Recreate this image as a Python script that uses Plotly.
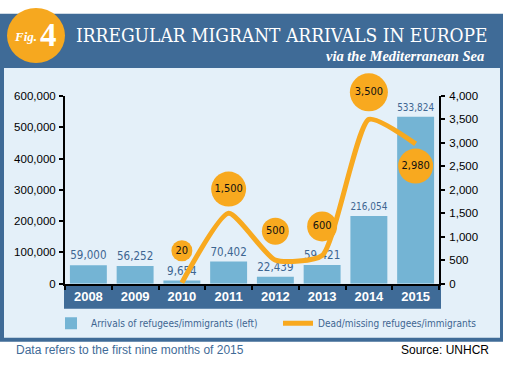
import plotly.graph_objects as go

# ---- data ----
years = ["2008", "2009", "2010", "2011", "2012", "2013", "2014", "2015"]
arrivals = [59000, 56252, 9654, 70402, 22439, 59421, 216054, 533824]
death_years = ["2010", "2011", "2012", "2013", "2014", "2015"]
deaths = [20, 1500, 500, 600, 3500, 2980]
left_ticks = [0, 100000, 200000, 300000, 400000, 500000, 600000]
right_ticks = [0, 500, 1000, 1500, 2000, 2500, 3000, 3500, 4000]

# ---- styles ----
W, H = 505, 368
BLUE = "#3f6b97"
PANEL = "#e4f0f9"
BAR = "#74b4d4"
LABEL = "#3d6591"
ORANGE = "#f8a91f"
COND = "DejaVu Sans Condensed"
bubble_sizes = [21, 35, 27, 30, 38, 35]
bubble_offset_px = [33, 25, 30, 30, 28, -23]
PLOT_TOP, PLOT_BOT = 93, 287
BUBBLE_TOP = 50
Y2MAX = 4000
units_per_px = Y2MAX / (PLOT_BOT - PLOT_TOP)
Y3MAX = units_per_px * (PLOT_BOT - BUBBLE_TOP)
bubble_y = [v + o * units_per_px for v, o in zip(deaths, bubble_offset_px)]
XRANGE = [-0.5, len(years) - 0.5]


def xp(px):
    return px / W


def yp(py):
    return 1 - py / H


fig = go.Figure()

fig.add_trace(go.Bar(
    x=years, y=arrivals, name="Arrivals of refugees/immigrants (left)",
    marker=dict(color=BAR, line=dict(width=0)), width=0.79,
    text=[f"{v:,}" for v in arrivals], textposition="outside",
    textfont=dict(family=COND, size=11.5, color=LABEL),
    cliponaxis=False, yaxis="y",
))

fig.add_trace(go.Scatter(
    x=death_years, y=deaths, name="Dead/missing refugees/immigrants",
    mode="lines", line=dict(color=ORANGE, width=5, shape="spline", smoothing=0.55),
    yaxis="y2", cliponaxis=False,
))

fig.add_trace(go.Scatter(
    x=death_years, y=bubble_y, mode="markers+text", showlegend=False,
    marker=dict(color=ORANGE, size=bubble_sizes, line=dict(width=0), opacity=1),
    text=[f"{v:,}" for v in deaths], textposition="middle center",
    textfont=dict(family=COND, size=11, color="#111111"),
    xaxis="x", yaxis="y3", cliponaxis=False, hoverinfo="skip",
))

shapes = [
    dict(type="rect", xref="paper", yref="paper", x0=xp(0), x1=xp(503), y0=yp(347), y1=yp(8),
         fillcolor=BLUE, line=dict(width=0), layer="below"),
    dict(type="rect", xref="paper", yref="paper", x0=xp(4), x1=xp(500), y0=yp(343), y1=yp(64),
         fillcolor=PANEL, line=dict(width=0), layer="below"),
    dict(type="rect", xref="paper", yref="paper", x0=xp(64), x1=xp(441), y0=yp(313), y1=yp(288),
         fillcolor=BLUE, line=dict(width=0), layer="below"),
    dict(type="circle", xref="paper", yref="paper", x0=xp(7), x1=xp(65), y0=yp(59), y1=yp(2),
         fillcolor="#f6a81f", line=dict(width=0)),
]

annotations = [
    dict(text="IRREGULAR MIGRANT ARRIVALS IN EUROPE", x=xp(74), y=yp(30), xref="paper", yref="paper",
         xanchor="left", yanchor="middle", showarrow=False,
         font=dict(family="DejaVu Serif Condensed", size=19, color="white")),
    dict(text="<b><i>via the Mediterranean Sea</i></b>", x=xp(486), y=yp(52), xref="paper", yref="paper",
         xanchor="right", yanchor="middle", showarrow=False,
         font=dict(family="Liberation Serif", size=14.5, color="white")),
    dict(text="<b><i>Fig.</i></b>", x=xp(39), y=yp(32), xref="paper", yref="paper",
         xanchor="right", yanchor="middle", showarrow=False,
         font=dict(family="Liberation Serif", size=13, color="white")),
    dict(text="<b>4</b>", x=xp(38), y=yp(30), xref="paper", yref="paper",
         xanchor="left", yanchor="middle", showarrow=False,
         font=dict(family="Liberation Serif", size=33, color="white")),
    dict(text="Data refers to the first nine months of 2015", x=xp(14), y=yp(356), xref="paper", yref="paper",
         xanchor="left", yanchor="middle", showarrow=False,
         font=dict(family="Liberation Sans", size=12, color=BLUE)),
    dict(text="Source: UNHCR", x=xp(491), y=yp(356), xref="paper", yref="paper",
         xanchor="right", yanchor="middle", showarrow=False,
         font=dict(family="Liberation Sans", size=12, color="black")),
]

fig.update_layout(
    width=W, height=H, autosize=False,
    margin=dict(l=0, r=0, t=0, b=0, pad=0),
    paper_bgcolor="white", plot_bgcolor="rgba(0,0,0,0)",
    shapes=shapes, annotations=annotations,
    xaxis=dict(domain=[xp(65), xp(439)], type="category", categoryorder="array", categoryarray=years,
               range=XRANGE, autorange=False,
               showline=True, linecolor="black", linewidth=2, tickson="boundaries",
               ticks="outside", ticklen=4, tickwidth=2, tickcolor="black",
               tickfont=dict(family="Liberation Sans", size=13, color="white", weight="bold"),
               showgrid=False, zeroline=False, fixedrange=True),
    yaxis=dict(domain=[yp(PLOT_BOT), yp(PLOT_TOP)], range=[0, 600000], tickvals=left_ticks,
               tickformat=",d", showline=True, linecolor="black", linewidth=2,
               ticks="outside", ticklen=4, tickwidth=2, tickcolor="black", ticklabelstandoff=1,
               tickfont=dict(family="Liberation Sans", size=11.5, color="black"),
               showgrid=False, zeroline=False),
    yaxis2=dict(domain=[yp(PLOT_BOT), yp(PLOT_TOP)], range=[0, Y2MAX], tickvals=right_ticks,
                tickformat=",d", overlaying="y", side="right", anchor="x",
                showline=True, linecolor="black", linewidth=2,
                ticks="outside", ticklen=4, tickwidth=2, tickcolor="black", ticklabelstandoff=2,
                tickfont=dict(family="Liberation Sans", size=11.5, color="black"),
                showgrid=False, zeroline=False),
    yaxis3=dict(domain=[yp(PLOT_BOT), yp(BUBBLE_TOP)], range=[0, Y3MAX],
                anchor="x", visible=False, showgrid=False, zeroline=False),
    legend=dict(orientation="h", x=xp(55), y=yp(328), xanchor="left", yanchor="middle",
                bgcolor="rgba(0,0,0,0)", entrywidth=182, entrywidthmode="pixels",
                font=dict(family=COND, size=10, color=LABEL), itemclick=False),
    showlegend=True,
)

fig.write_html("out.html", post_script="document.body.style.margin='0';",
               config={"displayModeBar": False})
